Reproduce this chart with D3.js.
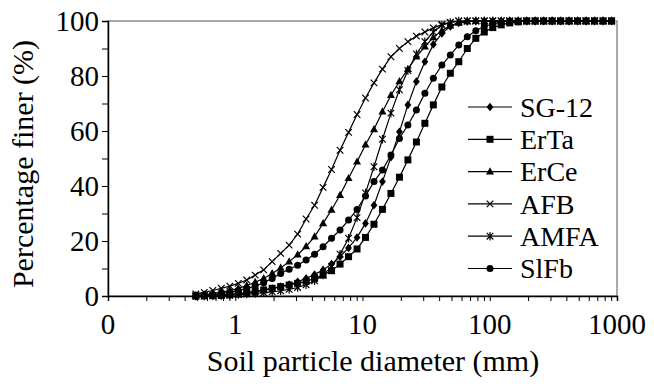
<!DOCTYPE html>
<html>
<head>
<meta charset="utf-8">
<script src="https://cdn.jsdelivr.net/npm/d3@7"></script>
<style>
  body { margin: 0; background: #fff; }
  text { font-family: "Liberation Serif", "Times New Roman", serif; fill: #000; }
</style>
</head>
<body>
<svg id="chart" width="654" height="386"></svg>
<script>
// Sieve diameters (mm) shared by all gradation curves
const diameters = [
  0.49, 0.571, 0.666, 0.777, 0.906, 1.056, 1.231, 1.435, 1.673, 1.951,
  2.274, 2.652, 3.092, 3.605, 4.203, 4.90, 5.71, 6.66, 7.77, 9.06,
  10.56, 12.31, 14.35, 16.73, 19.51, 22.74, 26.52, 30.92, 36.05, 42.03,
  49.0, 57.1, 66.6, 77.7, 90.6, 105.6, 123.1, 143.5, 167.3, 195.1,
  227.4, 265.2, 309.2, 360.5, 420.3, 490, 571, 666, 777, 906
];

// Percentage finer for each soil
const sg12 = [
  0, 0.1, 0.2, 0.4, 0.6, 0.9, 1.2, 1.6, 2.1, 2.7,
  3.4, 4.2, 5.2, 6.4, 7.8, 9.5, 11.6, 14.3, 17.5, 21.3,
  26.4, 33, 41.6, 50.5, 59.7, 69.5, 78, 85.2, 91.5, 95.5,
  98, 99.3, 99.8, 100, 100, 100, 100, 100, 100, 100,
  100, 100, 100, 100, 100, 100, 100, 100, 100, 100
];
const erta = [
  0, 0.05, 0.1, 0.2, 0.4, 0.7, 1.1, 1.6, 2.2, 2.8,
  3.4, 4.0, 4.6, 5.3, 6.4, 7.6, 9.2, 11.6, 14.3, 17.1,
  21.3, 26.1, 31.5, 37.3, 43.2, 49.5, 56, 62.8, 69.5, 76,
  81, 85.2, 90, 93.7, 96, 97.6, 98.6, 99.3, 99.7, 100,
  100, 100, 100, 100, 100, 100, 100, 100, 100, 100
];
const erce = [
  0.2, 0.5, 0.9, 1.4, 2.0, 2.8, 3.8, 5.0, 6.4, 8.2,
  10.2, 12.5, 15, 18, 21.6, 26.4, 31.3, 36.7, 42.8, 48.8,
  55, 60.6, 67, 73, 78, 82.5, 87, 90.7, 94, 96.5,
  98.3, 99.3, 99.8, 100, 100, 100, 100, 100, 100, 100,
  100, 100, 100, 100, 100, 100, 100, 100, 100, 100
];
const afb = [
  0.7, 1.3, 2.0, 2.8, 3.6, 4.6, 5.8, 7.6, 9.5, 12.5,
  15.5, 18.5, 22.5, 28, 33, 39.5, 46, 53, 59.5, 66,
  72, 77.5, 82.5, 87, 90, 92.5, 94.5, 96, 97.5, 98.7,
  99.5, 100, 100, 100, 100, 100, 100, 100, 100, 100,
  100, 100, 100, 100, 100, 100, 100, 100, 100, 100
];
const amfa = [
  0, 0, 0.1, 0.2, 0.3, 0.5, 0.7, 0.9, 1.2, 1.5,
  1.9, 2.4, 3.1, 4.1, 5.5, 7.6, 10.7, 15.2, 21, 28.5,
  37.5, 47, 57, 66.5, 75, 82, 88, 92.5, 96, 98.5,
  99.5, 100, 100, 100, 100, 100, 100, 100, 100, 100,
  100, 100, 100, 100, 100, 100, 100, 100, 100, 100
];
const slfb = [
  0, 0.2, 0.5, 0.9, 1.4, 2.0, 2.8, 3.6, 4.8, 6.4,
  8.2, 9.7, 11.2, 13.1, 15.2, 17.9, 21, 24, 27.6, 31.5,
  36.4, 41.6, 45.8, 51.3, 57.3, 62.2, 67.6, 73.7, 79.2, 84,
  87.6, 91.3, 94.3, 96.5, 98, 99, 99.6, 100, 100, 100,
  100, 100, 100, 100, 100, 100, 100, 100, 100, 100
];

const seriesNames = ["SG-12", "ErTa", "ErCe", "AFB", "AMFA", "SlFb"];
const seriesMarkers = ["diamond", "square", "triangle", "cross", "asterisk", "circle"];
const seriesValues = [sg12, erta, erce, afb, amfa, slfb];

const xTickValues = [0.1, 1, 10, 100, 1000];
const xTickLabels = ["0", "1", "10", "100", "1000"];
const yTickValues = [0, 20, 40, 60, 80, 100];

const svg = d3.select("#chart");
const margin = { left: 108, right: 37, top: 21, bottom: 90 };
const W = 654, H = 386;

const x = d3.scaleLog().domain([0.1, 1000]).range([margin.left, W - margin.right]);
const y = d3.scaleLinear().domain([0, 100]).range([H - margin.bottom, margin.top]);

// marker shapes drawn around (0,0)
function markerPath(kind) {
  switch (kind) {
    case "diamond": return "M0,-4.3L3.4,0L0,4.3L-3.4,0Z";
    case "square": return "M-3.5,-3.5H3.5V3.5H-3.5Z";
    case "triangle": return "M0,-4.4L4,2.8H-4Z";
    case "circle": return d3.symbol(d3.symbolCircle, Math.PI * 3.5 * 3.5)();
    case "cross": return "M-3.3,-3.3L3.3,3.3M-3.3,3.3L3.3,-3.3";
    case "asterisk": return "M-3.3,-3.3L3.3,3.3M-3.3,3.3L3.3,-3.3M0,-4.2V4.2";
  }
}
function isStroked(kind) { return kind === "cross" || kind === "asterisk"; }

function drawMarker(g, kind) {
  const p = g.append("path").attr("d", markerPath(kind));
  if (isStroked(kind)) p.attr("fill", "none").attr("stroke", "#000").attr("stroke-width", 1.2);
  else p.attr("fill", "#000").attr("stroke", "none");
}

// frame
svg.append("rect")
  .attr("x", margin.left).attr("y", margin.top)
  .attr("width", W - margin.right - margin.left)
  .attr("height", H - margin.bottom - margin.top)
  .attr("fill", "none").attr("stroke", "#555").attr("stroke-width", 1);

// x axis with log minor ticks
const xMinor = [];
for (let e = -1; e < 3; e++) for (let m = 1; m < 10; m++) xMinor.push(m * Math.pow(10, e));
xMinor.push(1000);
const xAxis = d3.axisBottom(x).tickValues(xMinor).tickSize(5).tickFormat("");
const gx = svg.append("g").attr("transform", `translate(0,${H - margin.bottom})`).call(xAxis);
gx.select(".domain").attr("stroke", "#000").attr("stroke-width", 1.5);
gx.selectAll(".tick line").attr("stroke", "#000").attr("stroke-width", 1);

svg.append("g").selectAll("text").data(xTickValues).join("text")
  .attr("x", d => x(d)).attr("y", 334)
  .attr("text-anchor", "middle").attr("font-size", 29)
  .text((d, i) => xTickLabels[i]);

// y axis
const yAxis = d3.axisLeft(y).tickValues(d3.range(0, 101, 10)).tickSize(6).tickFormat("");
const gy = svg.append("g").attr("transform", `translate(${margin.left},0)`).call(yAxis);
gy.select(".domain").attr("stroke", "#000").attr("stroke-width", 1.5);
gy.selectAll(".tick line").attr("stroke", "#000").attr("stroke-width", 1);

svg.append("g").selectAll("text").data(yTickValues).join("text")
  .attr("x", 99).attr("y", d => y(d)).attr("dy", "0.34em")
  .attr("text-anchor", "end").attr("font-size", 29)
  .text(d => d);

// axis titles
svg.append("text")
  .attr("x", 373).attr("y", 371)
  .attr("text-anchor", "middle").attr("font-size", 30)
  .text("Soil particle diameter (mm)");
svg.append("text")
  .attr("transform", "translate(33,164) rotate(-90)")
  .attr("text-anchor", "middle").attr("font-size", 30)
  .text("Percentage finer (%)");

// curves
const line = d3.line().x(d => x(d[0])).y(d => y(d[1]));
seriesValues.forEach((vals, s) => {
  const pts = diameters.map((d, i) => [d, vals[i]]);
  svg.append("path").datum(pts)
    .attr("d", line).attr("fill", "none")
    .attr("stroke", "#000").attr("stroke-width", 1.2);
  const g = svg.append("g");
  pts.forEach(p => {
    const m = g.append("g").attr("transform", `translate(${x(p[0])},${y(p[1])})`);
    drawMarker(m, seriesMarkers[s]);
  });
});

// legend
const legend = svg.append("g");
seriesNames.forEach((name, i) => {
  const ly = 107 + i * 32.3;
  legend.append("line").attr("x1", 468).attr("x2", 512).attr("y1", ly).attr("y2", ly)
    .attr("stroke", "#000").attr("stroke-width", 1.2);
  const m = legend.append("g").attr("transform", `translate(490,${ly})`);
  drawMarker(m, seriesMarkers[i]);
  legend.append("text").attr("x", 520).attr("y", ly).attr("dy", "0.35em")
    .attr("font-size", 28).text(name);
});
</script>
</body>
</html>
